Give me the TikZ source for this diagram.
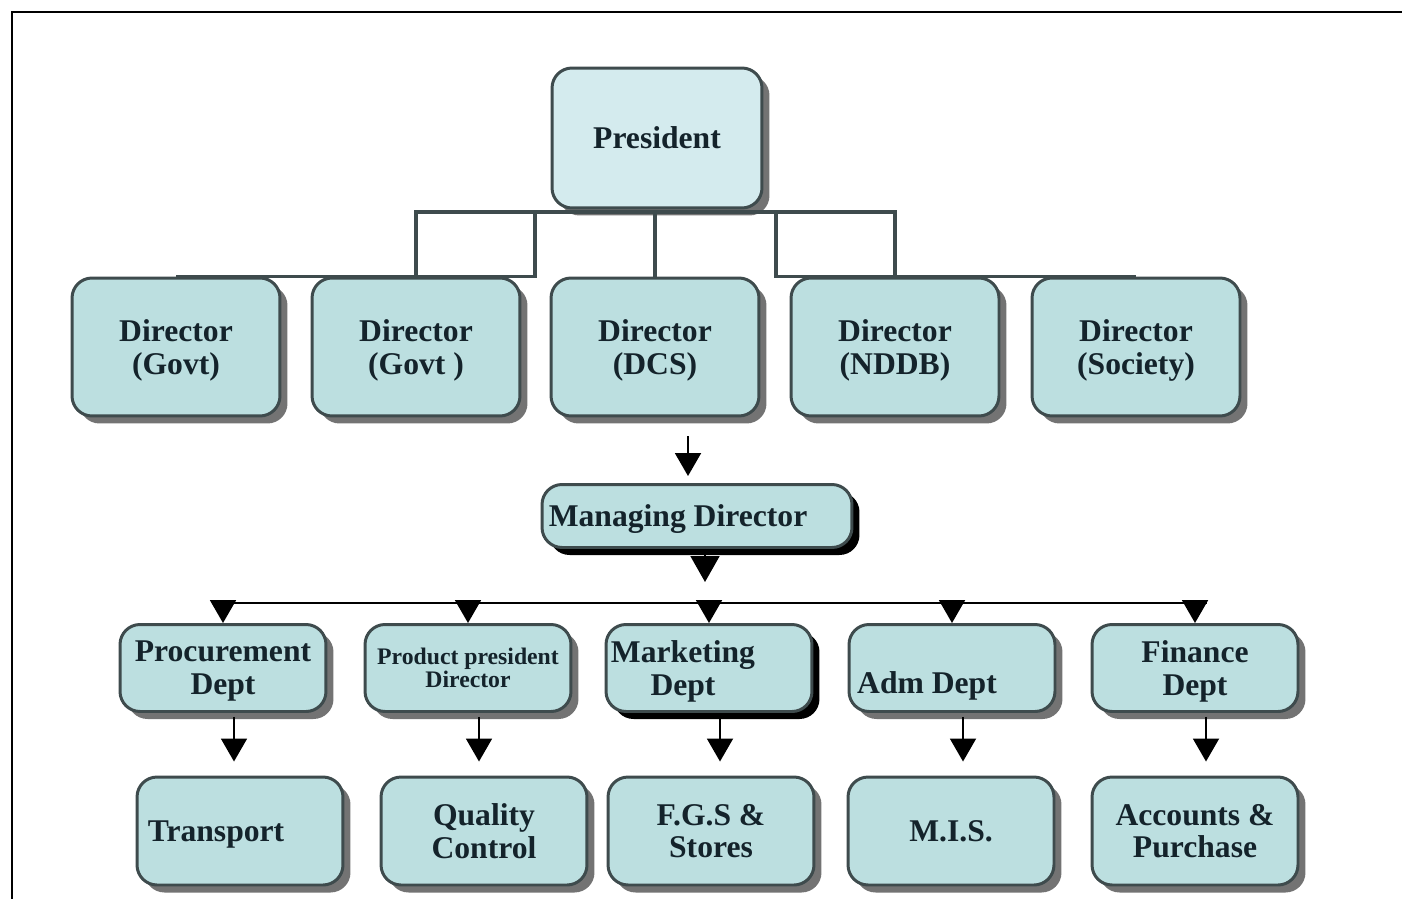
\documentclass[tikz,border=0pt]{standalone}
\usepackage{fontspec}
\setmainfont{Liberation Serif}
\usetikzlibrary{positioning, calc, shadows, arrows.meta}
\definecolor{boxfill}{HTML}{BCDFE0}
\definecolor{presfill}{HTML}{D4EBEE}
\definecolor{boxline}{HTML}{3E4B4D}
\definecolor{inkc}{HTML}{14232B}
\newcommand{\padr}[1]{\hbox to #1{}}
\tikzstyle{box}=[draw=boxline, line width=1.7pt, fill=boxfill, rounded corners=0.4cm, text=inkc, align=center, inner sep=2pt, text depth=0pt, font=\bfseries\fontsize{18}{18.7}\selectfont]
\tikzstyle{gsh}=[drop shadow={shadow xshift=0.15cm, shadow yshift=-0.15cm, fill=black!55, opacity=1}]
\tikzstyle{bsh}=[drop shadow={shadow xshift=0.15cm, shadow yshift=-0.15cm, fill=black, opacity=1}]
\tikzstyle{dir}=[box, gsh, minimum width=4.16cm, minimum height=2.76cm]
\tikzstyle{dept}=[box, minimum width=4.12cm, minimum height=1.74cm]
\tikzstyle{sub}=[box, gsh, minimum width=4.12cm, minimum height=2.16cm]
\tikzstyle{link}=[draw=boxline, line width=2.2pt]
\tikzstyle{arr}=[-{Triangle[width=0.52cm,length=0.46cm]}, line width=1.1pt]
\tikzstyle{bigarr}=[-{Triangle[width=0.58cm,length=0.52cm]}, line width=1.1pt]

\begin{document}
\begin{tikzpicture}[x=0.02cm, y=-0.02cm]
	\useasboundingbox (0,0) rectangle (1402,899);
	\draw[line width=1.1pt] (1402,12) -- (12,12) -- (12,899);
	% president and directors
	\node[box, gsh, fill=presfill, minimum width=4.2cm, minimum height=2.8cm] (pres) at (657,138) {President};
	\node[dir] (d1) at (176,347) {Director\\(Govt)};
	\node[dir] (d2) at (416,347) {Director\\(Govt )};
	\node[dir] (d3) at (655,347) {Director\\(DCS)};
	\node[dir] (d4) at (895,347) {Director\\(NDDB)};
	\node[dir] (d5) at (1136,347) {Director\\(Society)};
	\coordinate (bl) at (535,212);
	\coordinate (br) at (776,212);
	\draw[link] (d1.north) -| (bl) -| (d2.north);
	\draw[link] (d5.north) -| (br) -| (d4.north);
	\draw[link] (d2.north |- bl) -- (d4.north |- br);
	\draw[link] (d3.north |- bl) -- (d3.north);
	% managing director
	\node[box, bsh, minimum width=6.2cm, minimum height=1.26cm] (md) at (697,516) {Managing Director\padr{0.76cm}};
	\draw[arr] ($(md.north |- d3.south)+(-9,19)$) -- ($(md.north)+(-9,-7)$);
	\draw[bigarr] ($(md.south)+(8,0)$) -- ++(0,33);
	% departments
	\node[dept, gsh] (proc) at (223,668) {Procurement\\Dept};
	\node[dept, gsh, font=\bfseries\fontsize{13.5}{13.2}\selectfont] (prod) at (468,668) {Product president\\Director};
	\node[dept, bsh] (mkt) at (709,668) {Marketing\padr{1.04cm}\\Dept\padr{1.04cm}};
	\node[dept, gsh, text height=1.0cm] (adm) at (952,668) {Adm Dept\padr{1cm}};
	\node[dept, gsh] (fin) at (1195,668) {Finance\\Dept};
	\coordinate (barl) at (220,603);
	\coordinate (barr) at (1207,603);
	\draw[line width=1.6pt] (barl) -- (barr);
	\foreach \n in {proc,prod,mkt,adm,fin}
		\draw[arr] (\n.north |- barl) -- (\n.north);
	% sections
	\node[sub] (trans) at (240,831) {Transport\padr{0.96cm}};
	\node[sub] (qc) at (484,831) {Quality\\Control};
	\node[sub] (fgs) at (711,831) {F.G.S \&\\Stores};
	\node[sub] (mis) at (951,831) {M.I.S.};
	\node[sub] (acc) at (1195,831) {Accounts \&\\Purchase};
	\foreach \a/\b in {proc/trans, prod/qc, mkt/fgs, adm/mis, fin/acc}
		\draw[arr] ($(\a.south)+(11,4)$) -- ($(\a.south |- \b.north)+(11,-14)$);
\end{tikzpicture}
\end{document}
